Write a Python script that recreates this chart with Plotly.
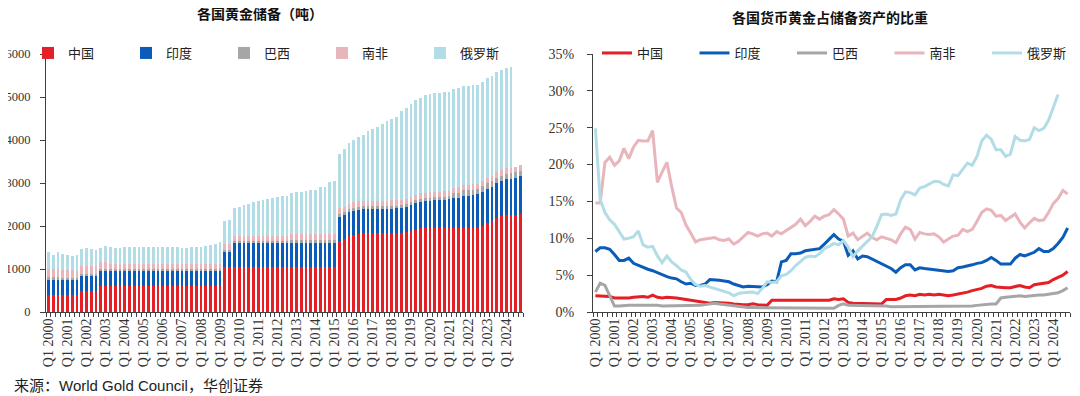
import plotly.graph_objects as go

W, H = 1080, 396

years = list(range(2000, 2025))
quarters = [f"Q{q} {y}" for y in years for q in (1, 2, 3, 4)]
q1_labels = [f"Q1 {y}" for y in years]

countries = ["中国", "印度", "巴西", "南非", "俄罗斯"]
colors = ["#E41F26", "#0B5CB8", "#A6A6A6", "#E8B5BB", "#B3DDE6"]

# ---- Gold reserves (tonnes), quarterly 2000Q1..2024Q4 ----
china_t = [395, 395, 395, 395, 395, 395, 395, 500, 500, 500,
           500, 600, 600, 600, 600, 600, 600, 600, 600, 600,
           600, 600, 600, 600, 600, 600, 600, 600, 600, 600,
           600, 600, 600, 600, 600, 600, 600, 1054, 1054, 1054,
           1054, 1054, 1054, 1054, 1054, 1054, 1054, 1054, 1054, 1054,
           1054, 1054, 1054, 1054, 1054, 1054, 1054, 1054, 1054, 1054,
           1054, 1658, 1697, 1762, 1798, 1823, 1838, 1843, 1843, 1843,
           1843, 1843, 1843, 1843, 1843, 1852, 1874, 1916, 1948, 1948,
           1948, 1948, 1948, 1948, 1948, 1948, 1948, 1948, 1948, 1948,
           1948, 2010, 2068, 2113, 2192, 2235, 2262, 2264, 2264, 2280]
india_t = [358, 358, 358, 358, 358, 358, 358, 358, 358, 358,
           358, 358, 358, 358, 358, 358, 358, 358, 358, 358,
           358, 358, 358, 358, 358, 358, 358, 358, 358, 358,
           358, 358, 358, 358, 358, 358, 358, 358, 358, 558,
           558, 558, 558, 558, 558, 558, 558, 558, 558, 558,
           558, 558, 558, 558, 558, 558, 558, 558, 558, 558,
           558, 558, 558, 558, 558, 558, 558, 558, 558, 558,
           558, 558, 560, 566, 575, 587, 608, 613, 618, 626,
           641, 653, 658, 668, 677, 695, 705, 754, 760, 768,
           785, 787, 795, 797, 800, 803, 822, 840, 854, 876]
brazil_t = [67, 67, 67, 45, 34, 34, 34, 34, 34, 34,
            34, 34, 34, 34, 34, 34, 34, 34, 34, 34,
            34, 34, 34, 34, 34, 34, 34, 34, 34, 34,
            34, 34, 34, 34, 34, 34, 34, 34, 34, 34,
            34, 34, 34, 34, 34, 34, 34, 34, 34, 34,
            34, 67, 67, 67, 67, 67, 67, 67, 67, 67,
            67, 67, 67, 67, 67, 67, 67, 67, 67, 67,
            67, 67, 67, 67, 67, 67, 67, 67, 67, 67,
            67, 67, 67, 67, 67, 121, 121, 130, 130, 130,
            130, 130, 130, 130, 130, 130, 130, 130, 130, 130]
safrica_t = [184, 184, 184, 183, 183, 180, 178, 178, 177, 177,
             177, 177, 176, 124, 124, 124, 124, 124, 124, 124,
             124, 124, 124, 124, 124, 124, 124, 124, 124, 124,
             124, 124, 124, 124, 124, 124, 124, 124, 124, 124,
             125, 125, 125, 125, 125, 125, 125, 125, 125, 125,
             125, 125, 125, 125, 125, 125, 125, 125, 125, 125,
             125, 125, 125, 125, 125, 125, 125, 125, 125, 125,
             125, 125, 125, 125, 125, 125, 125, 125, 125, 125,
             125, 125, 125, 125, 125, 125, 125, 125, 125, 125,
             125, 125, 125, 125, 125, 125, 125, 125, 125, 125]
russia_t = [400, 330, 400, 370, 355, 345, 370, 385, 410, 400,
            380, 320, 360, 390, 370, 365, 385, 385, 385, 385,
            385, 385, 385, 386, 386, 386, 386, 386, 384, 384,
            394, 400, 404, 424, 444, 464, 514, 550, 580, 640,
            669, 727, 750, 788, 807, 834, 850, 883, 911, 918,
            936, 958, 981, 996, 1015, 1035, 1040, 1094, 1112, 1208,
            1238, 1275, 1352, 1415, 1460, 1500, 1540, 1615, 1653, 1716,
            1778, 1839, 1890, 1944, 2066, 2113, 2168, 2208, 2230, 2271,
            2299, 2299, 2299, 2299, 2295, 2295, 2301, 2302, 2299, 2299,
            2299, 2299, 2326, 2330, 2333, 2333, 2333, 2336, None, None]

# ---- Gold share of reserve assets (%) ----
china_pct = [2.2, 2.2, 2.1, 2.1, 1.9, 1.9, 1.8, 1.9, 2.0, 2.1,
             2.1, 2.0, 2.3, 2.0, 1.9, 2.0, 2.0, 1.9, 1.8, 1.7,
             1.5, 1.4, 1.3, 1.2, 1.2, 1.3, 1.3, 1.3, 1.2, 1.1,
             1.0, 1.0, 1.0, 1.1, 1.0, 0.9, 0.9, 1.6, 1.6, 1.6,
             1.6, 1.6, 1.7, 1.7, 1.6, 1.7, 1.7, 1.7, 1.7, 1.6,
             1.8, 1.7, 1.8, 1.3, 1.2, 1.2, 1.2, 1.1, 1.1, 1.1,
             1.1, 1.7, 1.7, 1.7, 1.9, 2.2, 2.3, 2.2, 2.4, 2.3,
             2.4, 2.3, 2.4, 2.3, 2.2, 2.3, 2.4, 2.5, 2.7, 2.9,
             3.0, 3.2, 3.5, 3.6, 3.4, 3.3, 3.3, 3.3, 3.4, 3.6,
             3.4, 3.3, 3.7, 3.8, 3.9, 4.0, 4.4, 4.7, 5.0, 5.5]
india_pct = [8.2, 8.7, 8.7, 8.5, 7.8, 7.0, 7.0, 7.3, 6.6, 6.3,
             6.1, 5.8, 5.6, 5.3, 5.0, 4.8, 4.6, 4.5, 4.1, 3.8,
             3.9, 3.6, 3.6, 3.8, 4.4, 4.4, 4.3, 4.2, 4.1, 3.8,
             3.6, 3.4, 3.5, 3.5, 3.4, 3.4, 3.7, 4.2, 4.1, 6.8,
             7.0, 7.9, 7.9, 8.0, 8.3, 8.4, 8.5, 8.6, 9.2, 9.8,
             10.5, 9.9, 9.6, 7.7, 8.3, 7.2, 7.6, 7.5, 7.2, 6.9,
             6.5, 6.2, 5.9, 5.4, 6.0, 6.4, 6.4, 5.7, 6.0, 5.9,
             5.8, 5.7, 5.6, 5.5, 5.5, 5.6, 6.0, 6.1, 6.2, 6.4,
             6.6, 6.7, 7.0, 7.4, 7.0, 6.5, 6.5, 6.5, 7.3, 7.8,
             7.6, 7.8, 8.1, 8.6, 8.2, 8.2, 8.6, 9.3, 10.1, 11.4]
brazil_pct = [2.7, 3.9, 3.6, 2.2, 0.8, 0.8, 0.9, 0.9, 0.9, 0.9,
              0.9, 1.0, 1.0, 0.9, 0.8, 0.8, 0.9, 0.9, 0.9, 0.9,
              0.9, 0.8, 0.9, 1.0, 1.1, 1.2, 1.1, 1.0, 0.9, 0.8,
              0.7, 0.7, 0.6, 0.6, 0.6, 0.6, 0.5, 0.5, 0.5, 0.5,
              0.5, 0.5, 0.5, 0.5, 0.5, 0.5, 0.5, 0.5, 0.5, 0.5,
              0.5, 0.9, 1.1, 0.9, 0.9, 0.9, 0.9, 0.9, 0.9, 0.8,
              0.8, 0.8, 0.7, 0.7, 0.7, 0.8, 0.8, 0.7, 0.7, 0.7,
              0.7, 0.7, 0.7, 0.7, 0.7, 0.7, 0.7, 0.7, 0.8, 0.8,
              0.9, 1.0, 1.1, 1.1, 1.1, 1.9, 2.0, 2.1, 2.2, 2.2,
              2.1, 2.2, 2.3, 2.3, 2.3, 2.4, 2.5, 2.6, 2.9, 3.3]
safrica_pct = [14.8, 14.8, 20.3, 21.0, 19.9, 20.5, 22.2, 20.8, 22.4, 23.3,
               23.2, 23.2, 24.6, 17.6, 19.0, 20.3, 17.0, 14.1, 13.5, 11.8,
               10.7, 9.5, 9.8, 9.9, 10.1, 10.1, 9.8, 9.7, 9.9, 9.2,
               9.6, 10.2, 10.8, 10.6, 10.3, 10.6, 10.7, 10.3, 10.9, 10.6,
               11.0, 11.5, 11.9, 12.6, 11.7, 12.3, 13.0, 12.6, 13.0, 13.2,
               13.9, 13.3, 12.6, 10.3, 10.7, 9.8, 10.3, 10.7, 10.1, 9.8,
               10.2, 10.0, 9.8, 9.4, 10.6, 11.5, 11.2, 9.9, 10.8, 10.6,
               10.5, 10.6, 10.2, 9.5, 9.9, 10.3, 10.4, 11.2, 10.9, 11.2,
               12.3, 13.5, 14.0, 13.8, 13.0, 13.1, 12.4, 12.8, 13.3, 12.2,
               11.4, 12.1, 12.7, 12.4, 12.5, 13.5, 14.7, 15.4, 16.5, 16.0]
russia_pct = [24.9, 15.3, 13.5, 12.5, 11.9, 10.8, 9.9, 10.0, 10.2, 11.0,
              9.1, 8.8, 8.9, 7.6, 6.7, 7.6, 6.8, 6.3, 5.7, 5.4,
              4.4, 3.7, 3.5, 3.6, 3.4, 3.2, 2.9, 2.8, 2.6, 2.2,
              2.5, 2.6, 2.6, 2.7, 2.5, 3.2, 4.1, 4.0, 4.1, 4.9,
              5.1, 5.6, 6.3, 6.8, 7.4, 7.6, 7.5, 7.9, 8.6, 8.9,
              9.3, 9.1, 9.7, 8.8, 7.5, 8.3, 8.9, 9.5, 10.2, 11.6,
              13.2, 13.3, 13.1, 13.3, 15.2, 16.3, 16.2, 15.9, 16.8, 17.0,
              17.3, 17.7, 17.7, 17.3, 17.1, 18.6, 18.5, 19.3, 20.2, 19.9,
              21.1, 23.2, 24.0, 23.4, 22.0, 22.0, 21.1, 21.4, 23.8, 23.3,
              23.2, 23.4, 25.0, 24.6, 24.9, 26.0, 27.8, 29.5, None, None]

tonnes = [china_t, india_t, brazil_t, safrica_t, russia_t]
shares = [china_pct, india_pct, brazil_pct, safrica_pct, russia_pct]

xi = list(range(len(quarters)))
q1_idx = [quarters.index(lbl) for lbl in q1_labels]


def px(x):
    return x / W


def py(y):
    return 1 - y / H


fig = go.Figure()
for name, col, vals in zip(countries, colors, tonnes):
    fig.add_trace(go.Bar(x=xi, y=vals, name=name, marker=dict(color=col, line=dict(width=0)),
                         xaxis="x", yaxis="y", legend="legend"))
for name, col, vals in zip(countries, colors, shares):
    fig.add_trace(go.Scatter(x=xi, y=vals, name=name, mode="lines",
                             line=dict(color=col, width=3), xaxis="x2", yaxis="y2",
                             legend="legend2"))

axis_col = "#404040"
serif = "Liberation Serif, Times New Roman, serif"
tick_font = dict(family=serif, size=14, color="#333333")
ydom = [py(304), py(46)]

xcommon = dict(range=[-0.5, len(quarters) - 0.5], tickmode="array", tickvals=q1_idx,
               ticktext=q1_labels, tickangle=-90, ticks="", showline=True,
               linecolor=axis_col, linewidth=1, showgrid=False, zeroline=False,
               tickfont=tick_font, automargin=False, ticklabelstandoff=0,
               minor=dict(ticks="outside", ticklen=4, tickcolor=axis_col,
                          tickmode="linear", tick0=-0.5, dtick=1, showgrid=False))
ycommon = dict(showline=True, linecolor=axis_col, linewidth=1, ticks="outside", ticklen=5,
               tickcolor=axis_col, showgrid=False, zeroline=False,
               automargin=False, domain=ydom)

legend_font = dict(family="Noto Sans CJK SC", size=13, color="#222")

fig.update_layout(
    width=W, height=H, margin=dict(l=0, r=0, t=0, b=0, autoexpand=False),
    paper_bgcolor="white", plot_bgcolor="white",
    barmode="stack", bargap=0.42,
    font=dict(family="Liberation Serif, Noto Sans CJK SC", size=13, color="#222"),
    xaxis=dict(domain=[px(38), px(515)], anchor="y", **xcommon),
    yaxis=dict(range=[0, 6000], dtick=1000, anchor="x", ticklabelstandoff=7,
               tickfont=dict(family=serif, size=12.5, color="#333333"), **ycommon),
    xaxis2=dict(domain=[px(585), px(1062)], anchor="y2", **xcommon),
    yaxis2=dict(range=[0, 35], dtick=5, ticksuffix="%", anchor="x2", ticklabelstandoff=10,
                tickfont=tick_font, **ycommon),
    legend=dict(orientation="h", x=px(20), y=py(45), xanchor="left", yanchor="middle",
                traceorder="normal", entrywidth=53, entrywidthmode="pixels",
                bgcolor="rgba(0,0,0,0)", font=legend_font),
    legend2=dict(orientation="h", x=px(589), y=py(45), xanchor="left", yanchor="middle",
                 traceorder="normal", entrywidth=52.5, entrywidthmode="pixels",
                 bgcolor="rgba(0,0,0,0)", font=legend_font),
    annotations=[
        dict(text="<b>各国黄金储备（吨）</b>", x=px(252), y=py(5), xref="paper", yref="paper",
             showarrow=False, xanchor="center", yanchor="middle",
             font=dict(family="Noto Sans CJK SC", size=14, color="#111")),
        dict(text="<b>各国货币黄金占储备资产的比重</b>", x=px(822), y=py(9), xref="paper",
             yref="paper", showarrow=False, xanchor="center", yanchor="middle",
             font=dict(family="Noto Sans CJK SC", size=14, color="#111")),
        dict(text="来源：World Gold Council，华创证券", x=px(4), y=py(377), xref="paper",
             yref="paper", showarrow=False, xanchor="left", yanchor="middle",
             font=dict(family="Liberation Sans, Noto Sans CJK SC", size=15, color="#222")),
    ],
)

fig.write_html("out.html")
